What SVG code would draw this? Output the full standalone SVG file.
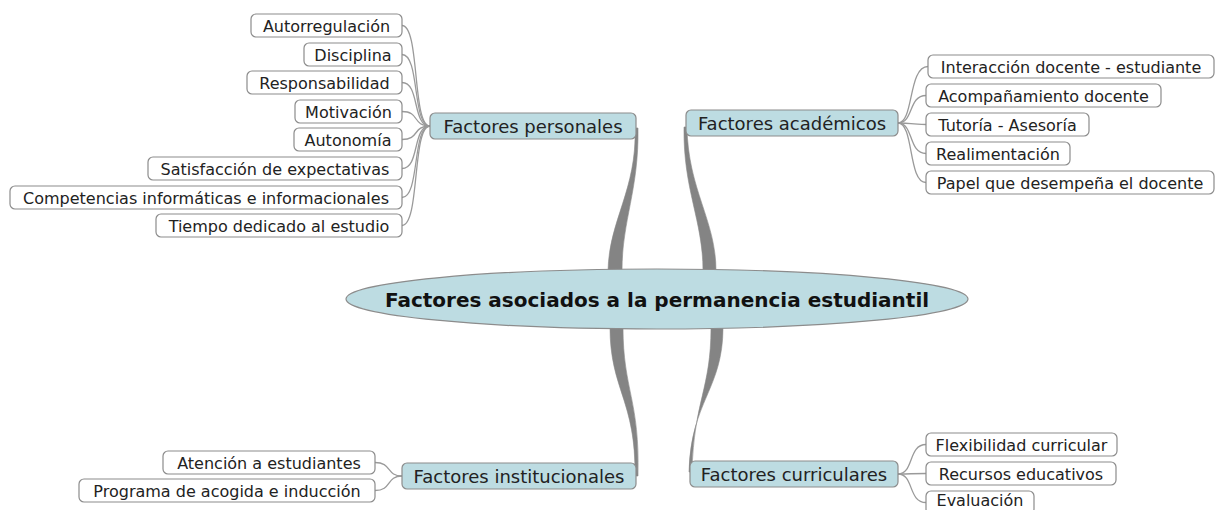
<svg xmlns="http://www.w3.org/2000/svg" width="1216" height="510" viewBox="0 0 1216 510">
<style>
.main rect{fill:#bddce2;stroke:#8c8c8c;stroke-width:1.2}
.main text{font-family:"DejaVu Sans",sans-serif;font-size:18px;fill:#222;text-anchor:middle}
.leaf rect{fill:#fff;stroke:#8c8c8c;stroke-width:1.2}
.leaf text{font-family:"DejaVu Sans",sans-serif;font-size:16px;fill:#222;text-anchor:middle}
.thin{fill:none;stroke:#9a9a9a;stroke-width:1.3}
.thick{fill:#848484;stroke:#8a8a8a;stroke-width:0.6}
</style>
<g id="connectors">
<path class="thick" d="M635,128 C637,190 609,220 608,271 L622,271 C622,220 639,190 638,128 Z"/>
<path class="thick" d="M684,127 C683,190 703,220 703,271 L716,271 C716,220 688,190 687,127 Z"/>
<path class="thick" d="M610,327 C610,390 636,400 635,476 L638,476 C640,400 623,390 623,327 Z"/>
<path class="thick" d="M723,327 C723,390 691,400 689,472 L692,472 C694,400 711,390 711,327 Z"/>
<path class="thin" d="M402,25.5 C420,25.5 412,126 430,126"/>
<path class="thin" d="M402,54.5 C420,54.5 412,126 430,126"/>
<path class="thin" d="M402,82.5 C420,82.5 412,126 430,126"/>
<path class="thin" d="M402,111.5 C420,111.5 412,126 430,126"/>
<path class="thin" d="M402,139.5 C420,139.5 412,126 430,126"/>
<path class="thin" d="M402,168.5 C420,168.5 412,126 430,126"/>
<path class="thin" d="M402,197.5 C420,197.5 412,126 430,126"/>
<path class="thin" d="M402,225.5 C420,225.5 412,126 430,126"/>
<path class="thin" d="M898,123 C914,123 908,66.5 928,66.5"/>
<path class="thin" d="M898,123 C914,123 908,95.5 926,95.5"/>
<path class="thin" d="M898,123 C914,123 908,124.5 926,124.5"/>
<path class="thin" d="M898,123 C914,123 908,153.5 926,153.5"/>
<path class="thin" d="M898,123 C914,123 908,182.5 926,182.5"/>
<path class="thin" d="M898,474 C914,474 908,444.5 926,444.5"/>
<path class="thin" d="M898,474 C914,474 908,473.5 926,473.5"/>
<path class="thin" d="M898,474 C914,474 908,502.5 926,502.5"/>
<path class="thin" d="M402,476 C386,476 392,462.5 375,462.5"/>
<path class="thin" d="M402,476 C386,476 392,490.5 375,490.5"/>
</g>
<g id="center">
<ellipse cx="657" cy="299" rx="311" ry="30" fill="#bddce2" stroke="#8c8c8c" stroke-width="1.2"/>
<text x="657" y="306.5" font-family="DejaVu Sans, sans-serif" font-size="20" font-weight="bold" fill="#111" text-anchor="middle">Factores asociados a la permanencia estudiantil</text>
</g>
<g id="personales" class="main"><rect x="430" y="113" width="206" height="26" rx="5"/><text x="533" y="132.5">Factores personales</text></g>
<g id="academicos" class="main"><rect x="686" y="110" width="212" height="26" rx="5"/><text x="792" y="129.5">Factores académicos</text></g>
<g id="institucionales" class="main"><rect x="402" y="463" width="234" height="26" rx="5"/><text x="519" y="482.5">Factores institucionales</text></g>
<g id="curriculares" class="main"><rect x="690" y="461" width="208" height="26" rx="5"/><text x="794" y="480.5">Factores curriculares</text></g>
<g id="autorregulacion" class="leaf"><rect x="251" y="14" width="151" height="23" rx="5"/><text x="326.5" y="31.5">Autorregulación</text></g>
<g id="disciplina" class="leaf"><rect x="304" y="43" width="98" height="23" rx="5"/><text x="353" y="60.5">Disciplina</text></g>
<g id="responsabilidad" class="leaf"><rect x="247" y="71" width="155" height="23" rx="5"/><text x="324.5" y="88.5">Responsabilidad</text></g>
<g id="motivacion" class="leaf"><rect x="295" y="100" width="107" height="23" rx="5"/><text x="348.5" y="117.5">Motivación</text></g>
<g id="autonomia" class="leaf"><rect x="294" y="128" width="108" height="23" rx="5"/><text x="348" y="145.5">Autonomía</text></g>
<g id="satisfaccion" class="leaf"><rect x="148" y="157" width="254" height="23" rx="5"/><text x="275" y="174.5">Satisfacción de expectativas</text></g>
<g id="competencias" class="leaf"><rect x="10" y="186" width="392" height="23" rx="5"/><text x="206" y="203.5">Competencias informáticas e informacionales</text></g>
<g id="tiempo" class="leaf"><rect x="156" y="214" width="246" height="23" rx="5"/><text x="279" y="231.5">Tiempo dedicado al estudio</text></g>
<g id="interaccion" class="leaf"><rect x="928" y="55" width="286" height="23" rx="5"/><text x="1071" y="72.5">Interacción docente - estudiante</text></g>
<g id="acompanamiento" class="leaf"><rect x="926" y="84" width="235" height="23" rx="5"/><text x="1043.5" y="101.5">Acompañamiento docente</text></g>
<g id="tutoria" class="leaf"><rect x="926" y="113" width="163" height="23" rx="5"/><text x="1007.5" y="130.5">Tutoría - Asesoría</text></g>
<g id="realimentacion" class="leaf"><rect x="926" y="142" width="144" height="23" rx="5"/><text x="998" y="159.5">Realimentación</text></g>
<g id="papel" class="leaf"><rect x="926" y="171" width="288" height="23" rx="5"/><text x="1070" y="188.5">Papel que desempeña el docente</text></g>
<g id="flexibilidad" class="leaf"><rect x="926" y="433" width="191" height="23" rx="5"/><text x="1021.5" y="450.5">Flexibilidad curricular</text></g>
<g id="recursos" class="leaf"><rect x="926" y="462" width="190" height="23" rx="5"/><text x="1021" y="479.5">Recursos educativos</text></g>
<g id="evaluacion" class="leaf"><rect x="926" y="491" width="108" height="23" rx="5"/><text x="980" y="506">Evaluación</text></g>
<g id="atencion" class="leaf"><rect x="163" y="451" width="212" height="23" rx="5"/><text x="269" y="468.5">Atención a estudiantes</text></g>
<g id="programa" class="leaf"><rect x="79" y="479" width="296" height="23" rx="5"/><text x="227" y="496.5">Programa de acogida e inducción</text></g>
</svg>
